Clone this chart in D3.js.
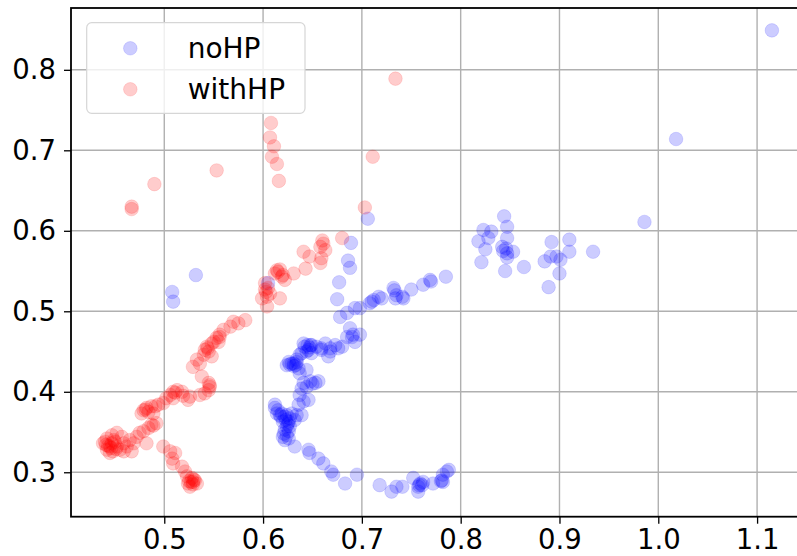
<!DOCTYPE html>
<html>
<head>
<meta charset="utf-8">
<script src="https://cdn.jsdelivr.net/npm/d3@7"></script>
<style>
  html, body { margin: 0; padding: 0; background: #fff; }
  svg { display: block; }
  text { font-family: "DejaVu Sans", sans-serif; }
</style>
</head>
<body>
<svg id="chart" width="797" height="556"></svg>
<script>
// Series: [x, y] pairs for each run
const noHP = [
  [1.115,0.849],[1.018,0.714],[0.986,0.611],[0.706,0.615],[0.532,0.545],[0.508,0.524],[0.509,0.512],[0.605,0.535],
  [0.689,0.585],[0.686,0.563],[0.688,0.554],[0.677,0.536],[0.675,0.515],
  [0.678,0.493],[0.685,0.498],[0.693,0.504],[0.698,0.504],[0.708,0.510],[0.712,0.514],[0.717,0.518],[0.720,0.516],
  [0.732,0.529],[0.735,0.520],[0.734,0.516],[0.742,0.516],[0.750,0.527],[0.762,0.533],[0.769,0.539],[0.770,0.537],
  [0.785,0.543],[0.741,0.518],[0.710,0.512],[0.733,0.526],
  [0.844,0.618],[0.847,0.605],[0.823,0.601],[0.831,0.599],[0.818,0.587],[0.828,0.591],[0.825,0.577],[0.821,0.561],
  [0.847,0.591],[0.842,0.580],[0.847,0.572],[0.853,0.574],[0.847,0.567],[0.845,0.550],[0.864,0.555],[0.892,0.586],
  [0.910,0.589],[0.910,0.574],[0.885,0.562],[0.891,0.568],[0.897,0.568],[0.901,0.564],[0.934,0.574],[0.900,0.547],
  [0.889,0.530],[0.843,0.575],[0.846,0.578],
  [0.688,0.479],[0.690,0.468],[0.698,0.471],[0.693,0.462],[0.685,0.468],[0.680,0.456],[0.676,0.454],[0.668,0.454],
  [0.663,0.460],[0.659,0.452],[0.666,0.444],[0.654,0.456],[0.648,0.458],[0.642,0.456],[0.644,0.450],[0.649,0.448],
  [0.639,0.448],[0.634,0.440],[0.631,0.435],[0.691,0.471],[0.673,0.458],[0.668,0.450],[0.659,0.454],[0.649,0.458],
  [0.641,0.460],[0.646,0.452],[0.637,0.446],[0.634,0.437],[0.629,0.435],[0.624,0.433],[0.626,0.437],[0.636,0.429],
  [0.637,0.423],[0.644,0.427],[0.645,0.458],[0.647,0.455],[0.631,0.432],[0.627,0.434],[0.633,0.433],
  [0.641,0.411],[0.648,0.413],[0.653,0.411],[0.656,0.413],[0.639,0.404],[0.644,0.406],[0.637,0.396],[0.646,0.390],
  [0.641,0.388],[0.636,0.384],[0.650,0.410],
  [0.612,0.380],[0.614,0.373],[0.617,0.371],[0.622,0.369],[0.627,0.367],[0.632,0.365],[0.639,0.371],[0.634,0.371],
  [0.620,0.363],[0.624,0.357],[0.626,0.351],[0.620,0.344],[0.626,0.342],[0.622,0.340],[0.612,0.384],[0.615,0.377],
  [0.619,0.373],[0.624,0.371],[0.629,0.373],[0.626,0.363],[0.622,0.353],[0.624,0.346],[0.627,0.357],
  [0.618,0.369],[0.623,0.365],[0.625,0.360],[0.621,0.348],
  [0.632,0.332],[0.646,0.328],[0.647,0.324],[0.656,0.317],[0.661,0.311],[0.669,0.301],[0.671,0.297],[0.683,0.286],
  [0.695,0.297],[0.718,0.284],[0.730,0.276],[0.735,0.282],
  [0.741,0.282],[0.752,0.293],[0.757,0.282],[0.757,0.276],[0.762,0.288],[0.761,0.284],[0.772,0.286],[0.781,0.290],
  [0.782,0.297],[0.788,0.303],[0.786,0.301],[0.782,0.288],[0.759,0.286],[0.758,0.284],[0.780,0.289]
];

const withHP = [
  [0.467,0.630],[0.467,0.627],[0.490,0.658],[0.553,0.675],[0.608,0.734],[0.607,0.716],[0.611,0.705],[0.609,0.692],
  [0.614,0.683],[0.616,0.662],[0.711,0.692],[0.703,0.629],[0.734,0.789],
  [0.680,0.591],[0.660,0.588],[0.658,0.580],[0.663,0.576],[0.641,0.574],[0.647,0.568],[0.659,0.566],[0.658,0.560],
  [0.643,0.553],[0.614,0.551],[0.617,0.552],[0.631,0.547],[0.661,0.584],[0.612,0.547],[0.619,0.543],[0.622,0.539],
  [0.620,0.545],[0.602,0.527],[0.605,0.529],[0.617,0.516],[0.604,0.518],[0.599,0.516],[0.604,0.506],[0.607,0.522],
  [0.602,0.535],[0.615,0.549],[0.603,0.524],
  [0.582,0.489],[0.575,0.485],[0.570,0.487],[0.567,0.481],[0.560,0.477],[0.556,0.471],[0.553,0.467],[0.555,0.462],
  [0.548,0.460],[0.543,0.456],[0.541,0.452],[0.545,0.450],[0.540,0.446],[0.548,0.444],[0.533,0.440],[0.536,0.435],
  [0.529,0.431],[0.538,0.419],[0.545,0.411],[0.546,0.406],[0.545,0.402],[0.541,0.398],[0.536,0.396],[0.550,0.462],
  [0.556,0.468],[0.544,0.454],[0.546,0.408],
  [0.526,0.394],[0.518,0.400],[0.513,0.402],[0.509,0.400],[0.506,0.396],[0.502,0.392],[0.509,0.392],[0.519,0.395],
  [0.524,0.390],[0.499,0.386],[0.494,0.384],[0.491,0.382],[0.487,0.382],[0.482,0.380],[0.479,0.377],[0.477,0.373],
  [0.484,0.375],[0.489,0.373],[0.511,0.399],[0.481,0.378],
  [0.492,0.361],[0.487,0.359],[0.484,0.355],[0.479,0.351],[0.475,0.349],[0.472,0.344],[0.482,0.336],[0.469,0.336],
  [0.465,0.340],[0.462,0.332],[0.467,0.326],[0.459,0.326],[0.489,0.358],
  [0.438,0.336],[0.442,0.342],[0.447,0.346],[0.452,0.349],[0.457,0.344],[0.445,0.332],[0.448,0.326],[0.442,0.328],
  [0.452,0.332],[0.455,0.328],[0.445,0.324],[0.440,0.338],[0.450,0.338],[0.459,0.336],[0.443,0.333],[0.449,0.340],
  [0.446,0.330],[0.441,0.334],[0.451,0.329],[0.447,0.336],
  [0.499,0.332],[0.506,0.326],[0.511,0.324],[0.508,0.317],[0.509,0.311],[0.518,0.307],[0.521,0.301],[0.523,0.295],
  [0.528,0.293],[0.529,0.288],[0.524,0.286],[0.531,0.290],[0.526,0.282],[0.533,0.286],[0.530,0.291],[0.527,0.288],
  [0.529,0.285],[0.525,0.289]
];

const xTicks = [0.5, 0.6, 0.7, 0.8, 0.9, 1.0, 1.1];
const yTicks = [0.3, 0.4, 0.5, 0.6, 0.7, 0.8];
const xDomain = [0.4056, 1.149];
const yDomain = [0.2448, 0.8768];

const series = [
  { name: "noHP", color: "#0000ff", data: noHP },
  { name: "withHP", color: "#ff0000", data: withHP }
];

const svg = d3.select("#chart");
const plot = { left: 71, right: 805.5, top: 8, bottom: 516.7 };
const FS = 27.5;
const R = 6.8;

const x = d3.scaleLinear().domain(xDomain).range([plot.left, plot.right]);
const y = d3.scaleLinear().domain(yDomain).range([plot.bottom, plot.top]);

svg.append("defs").append("clipPath").attr("id", "plotclip")
  .append("rect")
  .attr("x", plot.left).attr("y", plot.top)
  .attr("width", plot.right - plot.left).attr("height", plot.bottom - plot.top);

// Grid
const grid = svg.append("g").attr("stroke", "#b0b0b0").attr("stroke-width", 1.4);
grid.selectAll("line.gx").data(xTicks).join("line")
  .attr("x1", d => x(d)).attr("x2", d => x(d))
  .attr("y1", plot.top).attr("y2", plot.bottom);
grid.selectAll("line.gy").data(yTicks).join("line")
  .attr("x1", plot.left).attr("x2", plot.right)
  .attr("y1", d => y(d)).attr("y2", d => y(d));

// Points
const pts = svg.append("g").attr("clip-path", "url(#plotclip)");
series.forEach(s => {
  pts.append("g").selectAll("circle").data(s.data).join("circle")
    .attr("cx", d => x(d[0]))
    .attr("cy", d => y(d[1]))
    .attr("r", R)
    .attr("fill", s.color).attr("fill-opacity", 0.2)
    .attr("stroke", s.color).attr("stroke-opacity", 0.12).attr("stroke-width", 1);
});

// Frame
svg.append("rect")
  .attr("x", plot.left).attr("y", plot.top)
  .attr("width", plot.right - plot.left).attr("height", plot.bottom - plot.top)
  .attr("fill", "none").attr("stroke", "#000").attr("stroke-width", 1.8);

// Axes
const fmt = d3.format(".1f");
const xAxis = svg.append("g").attr("transform", `translate(0,${plot.bottom})`)
  .call(d3.axisBottom(x).tickValues(xTicks).tickFormat(fmt).tickSize(7).tickPadding(6));
const yAxis = svg.append("g").attr("transform", `translate(${plot.left},0)`)
  .call(d3.axisLeft(y).tickValues(yTicks).tickFormat(fmt).tickSize(7).tickPadding(8));
[xAxis, yAxis].forEach(a => {
  a.select(".domain").remove();
  a.selectAll(".tick line").attr("stroke", "#000").attr("stroke-width", 1.3);
  a.selectAll(".tick text").attr("fill", "#000")
    .style("font-family", "'DejaVu Sans', sans-serif").style("font-size", FS + "px");
});

// Legend
const lg = svg.append("g");
lg.append("rect")
  .attr("x", 86.7).attr("y", 22.7).attr("width", 218.3).attr("height", 90.6)
  .attr("rx", 5).attr("ry", 5)
  .attr("fill", "#fff").attr("fill-opacity", 0.8)
  .attr("stroke", "#d6d6d6").attr("stroke-width", 1.2);
series.forEach((s, i) => {
  const cy = 48.3 + i * 41;
  lg.append("circle").attr("cx", 130.3).attr("cy", cy).attr("r", R)
    .attr("fill", s.color).attr("fill-opacity", 0.2)
    .attr("stroke", s.color).attr("stroke-opacity", 0.12);
  lg.append("text").attr("x", 187.7).attr("y", cy + 9.5)
    .attr("fill", "#000")
    .style("font-size", "28px")
    .text(s.name);
});
</script>
</body>
</html>
